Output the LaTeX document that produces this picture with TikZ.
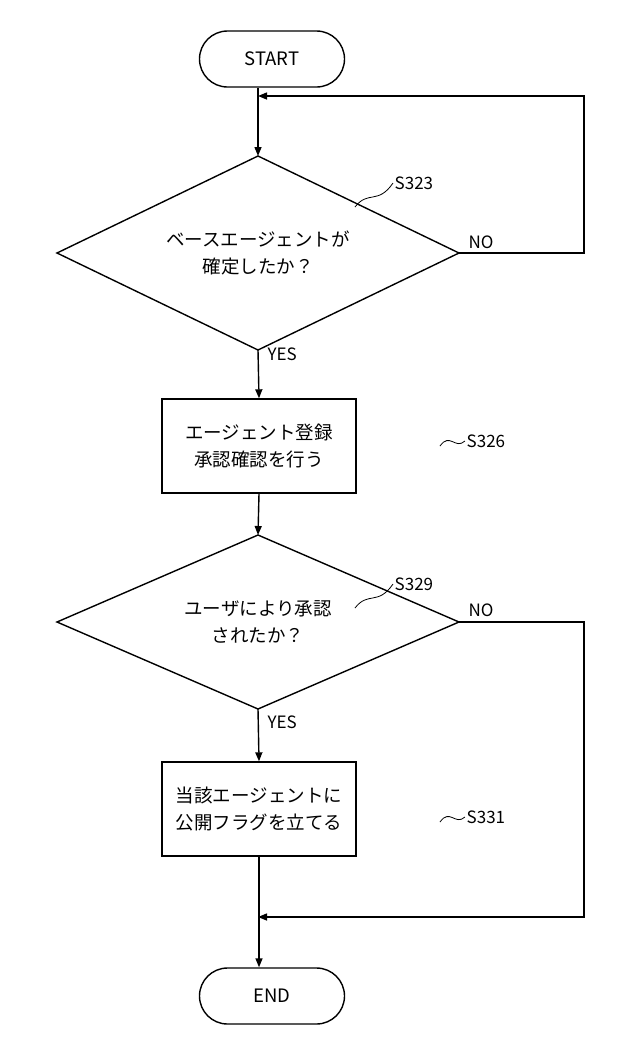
\documentclass[tikz,border=0pt]{standalone}
\usepackage{fontspec}
\setmainfont{Noto Sans CJK JP}
\usetikzlibrary{shapes.geometric,arrows.meta}
\begin{document}
\begin{tikzpicture}[x=1pt,y=-1pt,
  line width=1.4pt,
  >={Triangle[length=9pt,width=7pt]},
  txt/.style={font=\fontsize{18.5}{27}\selectfont,align=center},
  term/.style={draw,rounded corners=28pt,minimum width=145pt,minimum height=56pt,inner sep=0pt,txt},
  box/.style={draw,minimum width=194pt,minimum height=94pt,inner sep=0pt,txt},
  lbl/.style={font=\fontsize{17}{19}\selectfont,inner sep=1pt}]
\useasboundingbox (0,0) rectangle (640,1061);
\node[term] (start) at (272,59) {START};
\node[txt] (d1) at (258,253) {ベースエージェントが\\確定したか？};
\draw (57,253) coordinate (d1l) -- (258,156) coordinate (d1t) -- (459,253) coordinate (d1r) -- (258,350) coordinate (d1b) -- cycle;
\node[box] (r1) at (259,446) {エージェント登録\\承認確認を行う};
\node[txt] (d2) at (258,622) {ユーザにより承認\\されたか？};
\draw (57,622) coordinate (d2l) -- (258,535) coordinate (d2t) -- (459,622) coordinate (d2r) -- (258,709) coordinate (d2b) -- cycle;
\node[box] (r2) at (259,809) {当該エージェントに\\公開フラグを立てる};
\node[term] (end) at (272,996) {END};
\coordinate (j1) at (258,96);
\coordinate (j2) at (258,917);
\draw[->] (258,88) -- (d1t);
\draw[->] (d1r) -- (584,253) -- (584,96) -- (j1);
\draw[->] (d1b) -- (r1.north);
\draw[->] (r1.south) -- (d2t);
\draw[->] (d2b) -- (r2.north);
\draw[->] (r2.south) -- (end.north -| r2.south);
\draw[->] (d2r) -- (584,622) -- (584,917) -- (j2);
\node[lbl,anchor=south west] (no1) at (467,250) {NO};
\node[lbl,anchor=south west] (no2) at (467,618) {NO};
\node[lbl,anchor=west] (yes1) at (266,354) {YES};
\node[lbl,anchor=west] (yes2) at (266,722) {YES};
\node[lbl,anchor=west] (s323) at (393,183) {S323};
\node[lbl,anchor=west] (s326) at (465,441) {S326};
\node[lbl,anchor=west] (s329) at (393,584) {S329};
\node[lbl,anchor=west] (s331) at (465,817) {S331};
\draw[line width=0.8pt] (355,207) .. controls (368,190) and (378,205) .. (s323.west);
\draw[line width=0.8pt] (440,446) .. controls (450,432) and (455,450) .. (s326.west);
\draw[line width=0.8pt] (355,608) .. controls (368,591) and (378,606) .. (s329.west);
\draw[line width=0.8pt] (440,822) .. controls (450,808) and (455,826) .. (s331.west);
\end{tikzpicture}
\end{document}
